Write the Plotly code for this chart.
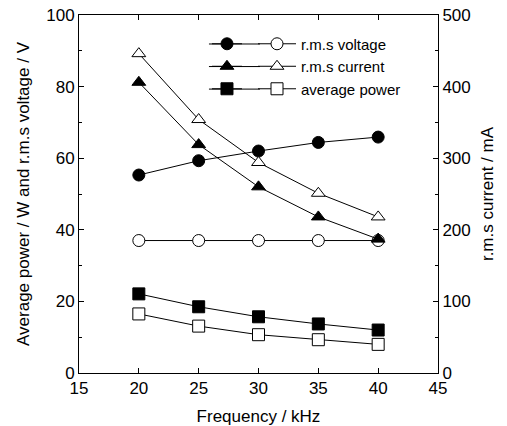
import plotly.graph_objects as go

freq = [20, 25, 30, 35, 40]
volt_filled = [55.3, 59.3, 62.0, 64.4, 65.9]
volt_open = [37.0, 37.0, 37.0, 37.0, 37.0]
curr_filled = [406, 319, 260, 218, 187]
curr_open = [446, 354, 294, 251, 218]
power_filled = [22.1, 18.5, 15.7, 13.7, 12.0]
power_open = [16.5, 13.1, 10.7, 9.3, 8.0]
names = ["r.m.s voltage", "r.m.s current", "average power"]

FONT = "Liberation Sans, Arial, sans-serif"
fig = go.Figure()

def add(y, sym, filled, name, legend, yaxis="y"):
    fig.add_trace(go.Scatter(
        x=freq, y=y, mode="lines+markers", name=name, legend=legend, yaxis=yaxis,
        line=dict(color="black", width=1),
        marker=dict(symbol=sym, size=12, color="black" if filled else "white",
                    line=dict(color="black", width=1)),
    ))

add(volt_filled, "circle", True, " ", "legend")
add(curr_filled, "triangle-up", True, " ", "legend", "y2")
add(power_filled, "square", True, " ", "legend")
add(volt_open, "circle", False, names[0], "legend2")
add(curr_open, "triangle-up", False, names[1], "legend2", "y2")
add(power_open, "square", False, names[2], "legend2")

# connecting line segments between the paired legend symbols
for yy in [0.919, 0.856, 0.793]:
    fig.add_shape(type="line", xref="paper", yref="paper", x0=0.362, x1=0.504,
                  y0=yy, y1=yy, line=dict(color="black", width=1), layer="above")

axcommon = dict(showline=True, linecolor="black", linewidth=1, ticks="inside",
                ticklen=5, tickcolor="black", showgrid=False, zeroline=False,
                ticklabeloverflow="allow",
                tickfont=dict(size=17, family=FONT, color="black"))

fig.update_layout(
    width=507, height=426,
    margin=dict(l=79, r=69, t=15, b=53),
    paper_bgcolor="white", plot_bgcolor="white",
    font=dict(family=FONT, color="black"),
    xaxis=dict(range=[15, 45], dtick=5, mirror="ticks", automargin=False,
               title=dict(text="Frequency / kHz", font=dict(size=17)),
               **axcommon),
    yaxis=dict(range=[0, 100], dtick=20, automargin="left",
               minor=dict(dtick=10, ticks="inside", ticklen=3, tickcolor="black"),
               title=dict(text="Average power / W and r.m.s voltage / V", font=dict(size=17), standoff=12),
               **axcommon),
    yaxis2=dict(range=[0, 500], dtick=100, overlaying="y", side="right", automargin="right",
                minor=dict(dtick=50, ticks="inside", ticklen=3, tickcolor="black"),
                title=dict(text="r.m.s current / mA", font=dict(size=17), standoff=11),
                **axcommon),
    legend=dict(x=0.3565, y=0.965, xanchor="left", yanchor="top", bgcolor="rgba(0,0,0,0)",
                font=dict(size=15), tracegroupgap=0, itemwidth=30),
    legend2=dict(x=0.4847, y=0.965, xanchor="left", yanchor="top", bgcolor="rgba(0,0,0,0)",
                 font=dict(size=15), tracegroupgap=0, itemwidth=38),
)

fig.write_html("out.html", config={"displayModeBar": False},
               post_script="document.body.style.margin='0';")
